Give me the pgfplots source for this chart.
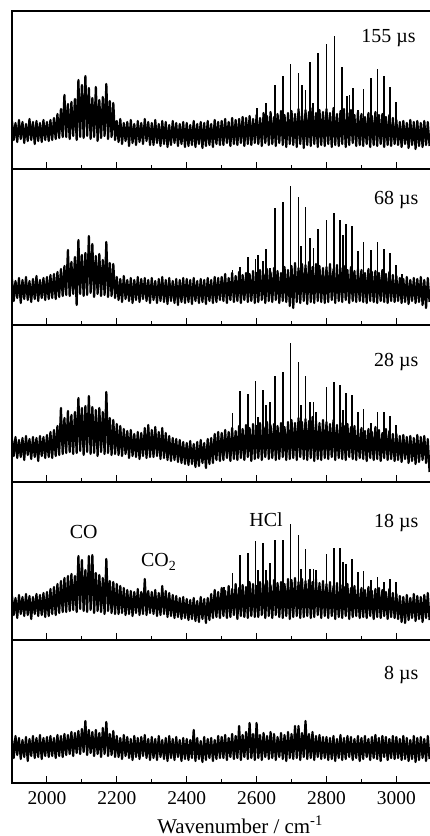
\documentclass[border=0pt]{standalone}
\usepackage{fontspec}
\setmainfont{Liberation Serif}
\usepackage{pgfplots}
\usepackage{pgfplotstable}
\pgfplotsset{compat=1.18}

% noise band of each trace, px above/below its own baseline
% columns: a=155us b=68us c=28us d=18us e=8us
\pgfplotstableread{
w a b c d e
1900 12 11 9 10 9
1905 -7 -11 -8 -9 -10
1910 10 9 11 8 12
1915 -9 -8 -10 -12 -7
1920 13 12 8 11 10
1925 -6 -13 -9 -8 -11
1930 11 10 10 9 8
1935 -10 -9 -12 -10 -9
1940 9 13 12 12 11
1945 -8 -10 -7 -9 -13
1950 14 9 9 10 9
1955 -7 -12 -11 -13 -8
1960 11 11 11 9 12
1965 -11 -9 -9 -8 -10
1970 12 14 10 12 10
1975 -8 -11 -13 -10 -9
1980 10 10 12 11 13
1985 -9 -8 -8 -9 -11
1990 13 12 11 13 10
1995 -7 -10 -10 -11 -8
2000 11 13 13 14 11
2005 -8 -9 -9 -10 -9
2010 13 15 16 17 12
2015 -7 -8 -10 -8 -8
2020 15 16 18 19 10
2025 -6 -9 -8 -9 -10
2030 19 18 22 22 13
2035 -5 -7 -7 -7 -8
2040 24 21 40 25 12
2045 -4 -6 -6 -6 -9
2050 38 24 30 28 14
2055 -4 -5 -5 -6 -7
2060 29 40 37 30 13
2065 -6 -6 -4 -5 -6
2070 31 28 33 32 16
2075 -3 -4 -6 -4 -8
2080 34 33 36 30 15
2085 -7 -15 -5 -6 -5
2090 53 50 50 50 17
2095 -4 -4 -3 -3 -6
2100 48 35 40 46 19
2105 -5 -6 -7 -5 -4
2110 57 37 42 36 27
2115 -3 -5 -4 -6 -7
2120 45 54 52 50 18
2125 -6 -3 -6 -4 -5
2130 35 46 41 51 16
2135 -4 -7 -5 -7 -8
2140 46 34 38 33 18
2145 -8 -4 -8 -5 -6
2150 33 36 40 31 15
2155 -5 -6 -4 -6 -9
2160 36 30 36 28 20
2165 -3 -5 -6 -8 -6
2170 49 48 56 47 26
2175 -6 -7 -5 -5 -8
2180 32 27 30 25 14
2185 -4 -6 -7 -7 -7
2190 30 26 28 24 17
2195 -7 -8 -6 -8 -9
2200 12 13 24 22 12
2205 -9 -10 -7 -8 -9
2210 14 11 22 20 10
2215 -11 -12 -8 -7 -11
2220 10 14 19 18 13
2225 -8 -9 -6 -9 -8
2230 11 10 17 16 11
2235 -13 -11 -10 -8 -10
2240 13 12 18 15 9
2245 -10 -13 -8 -10 -12
2250 9 10 14 14 12
2255 -12 -10 -9 -7 -9
2260 12 13 16 17 10
2265 -9 -12 -11 -9 -11
2270 10 11 15 14 11
2275 -11 -9 -8 -8 -8
2280 14 12 20 27 13
2285 -8 -11 -10 -9 -10
2290 11 10 23 15 9
2295 -12 -13 -9 -7 -12
2300 10 12 18 14 11
2305 -12 -10 -9 -8 -10
2310 13 9 21 16 9
2315 -10 -13 -8 -10 -12
2320 9 11 16 13 12
2325 -13 -11 -11 -9 -9
2330 12 13 20 20 8
2335 -11 -12 -10 -8 -11
2340 11 10 15 15 10
2345 -14 -14 -12 -11 -13
2350 8 12 12 13 12
2355 -12 -11 -13 -10 -10
2360 12 9 10 11 9
2365 -10 -13 -12 -12 -12
2370 10 11 9 10 11
2375 -13 -15 -14 -11 -9
2380 9 10 8 8 8
2385 -11 -12 -15 -13 -13
2390 11 12 6 9 10
2395 -14 -13 -16 -12 -11
2400 10 11 5 7 9
2405 -13 -12 -17 -14 -12
2410 8 10 7 6 8
2415 -12 -14 -16 -13 -10
2420 12 12 4 8 18
2425 -14 -11 -19 -15 -13
2430 9 9 6 5 10
2435 -11 -13 -18 -16 -11
2440 11 11 8 9 7
2445 -15 -12 -15 -13 -14
2450 10 10 5 7 11
2455 -13 -14 -20 -17 -12
2460 12 12 9 8 9
2465 -12 -11 -16 -14 -10
2470 9 10 10 12 10
2475 -14 -13 -15 -12 -13
2480 13 13 14 16 8
2485 -11 -12 -12 -11 -11
2490 11 12 16 14 12
2495 -12 -10 -13 -12 -10
2500 12 13 15 18 11
2505 -12 -11 -12 -10 -10
2510 14 16 18 15 13
2515 -10 -13 -10 -12 -12
2520 11 12 16 20 10
2525 -13 -10 -13 -11 -9
2530 15 17 20 17 14
2535 -11 -12 -11 -9 -11
2540 13 14 17 22 12
2545 -12 -11 -12 -13 -10
2550 14 18 22 18 22
2555 -10 -13 -10 -10 -12
2560 16 15 19 21 13
2565 -13 -10 -12 -11 -9
2570 15 17 23 19 16
2575 -11 -12 -9 -12 -11
2580 17 16 20 24 25
2585 -12 -11 -13 -10 -10
2590 14 19 24 22 14
2595 -10 -13 -11 -11 -12
2600 18 17 22 20 25
2605 -11 -12 -10 -11 -10
2610 15 20 25 24 13
2615 -13 -10 -12 -9 -12
2620 20 16 21 22 15
2625 -10 -13 -9 -12 -9
2630 17 21 26 25 12
2635 -12 -11 -11 -10 -11
2640 21 18 23 21 16
2645 -11 -12 -10 -12 -10
2650 16 22 24 26 14
2655 -13 -10 -12 -9 -12
2660 19 19 22 23 11
2665 -10 -13 -11 -11 -9
2670 22 17 25 24 15
2675 -12 -11 -9 -12 -11
2680 18 23 21 22 13
2685 -14 -12 -12 -10 -13
2690 20 20 26 27 16
2695 -11 -16 -11 -13 -10
2700 22 24 28 26 14
2705 -12 -18 -10 -11 -11
2710 19 27 25 28 22
2715 -14 -12 -12 -10 -10
2720 24 22 30 24 22
2725 -11 -13 -9 -12 -12
2730 20 26 26 27 15
2735 -15 -11 -11 -11 -9
2740 23 25 29 25 27
2745 -12 -14 -12 -10 -11
2750 21 28 27 26 14
2755 -13 -12 -10 -12 -10
2760 25 23 31 24 16
2765 -11 -13 -13 -11 -12
2770 20 26 27 27 12
2775 -14 -11 -11 -9 -9
2780 23 24 25 23 13
2785 -12 -12 -12 -12 -11
2790 21 22 28 25 11
2795 -13 -13 -10 -10 -10
2800 24 23 26 22 11
2805 -11 -12 -11 -12 -12
2810 20 26 24 24 10
2815 -14 -10 -9 -10 -11
2820 25 21 28 20 12
2825 -12 -13 -12 -13 -13
2830 19 25 23 23 9
2835 -13 -11 -10 -11 -10
2840 22 22 25 21 13
2845 -11 -12 -11 -12 -12
2850 24 24 22 19 10
2855 -14 -10 -12 -10 -11
2860 20 20 24 22 12
2865 -12 -13 -9 -13 -9
2870 23 23 21 18 11
2875 -10 -11 -11 -11 -12
2880 18 19 22 20 9
2885 -13 -12 -12 -10 -10
2890 21 21 19 17 12
2895 -12 -11 -10 -12 -13
2900 19 20 20 18 10
2905 -13 -12 -11 -11 -11
2910 16 17 17 16 12
2915 -11 -13 -13 -12 -9
2920 20 21 19 19 9
2925 -14 -11 -10 -10 -12
2930 17 18 16 15 11
2935 -12 -12 -12 -13 -10
2940 21 19 21 17 13
2945 -13 -13 -11 -11 -11
2950 18 17 18 18 10
2955 -11 -11 -13 -12 -13
2960 19 20 15 16 12
2965 -14 -12 -10 -10 -9
2970 16 16 19 14 11
2975 -12 -13 -12 -13 -12
2980 18 18 17 17 9
2985 -13 -11 -11 -11 -10
2990 15 15 14 13 12
2995 -11 -12 -13 -12 -11
3000 13 14 14 12 11
3005 -12 -11 -12 -13 -10
3010 11 12 12 10 9
3015 -14 -13 -14 -16 -12
3020 12 11 13 9 12
3025 -11 -12 -11 -17 -11
3030 10 13 11 11 10
3035 -15 -14 -15 -14 -13
3040 13 10 12 8 8
3045 -12 -11 -13 -12 -11
3050 11 12 10 12 12
3055 -16 -13 -16 -15 -14
3060 12 11 13 10 10
3065 -13 -12 -14 -13 -12
3070 10 13 11 9 11
3075 -14 -15 -12 -16 -10
3080 12 10 12 11 9
3085 -12 -18 -15 -12 -13
3090 11 12 9 13 12
3095 -13 -12 -24 -14 -11
}\noise

% HCl lines: position, peak height above baseline
\pgfplotstableread{
w h
2602 25
2628 30
2652 48
2675 57
2697 69
2720 60
2730 48
2740 43
2754 71
2761 30
2776 80
2800 89
2823 97
2844 66
2859 37
2866 38
2876 45
2890 23
2906 44
2928 55
2946 64
2964 57
2983 46
3000 31
}\hclA

\pgfplotstableread{
w h
2531 20
2553 23
2575 33
2597 31
2604 35
2618 29
2628 41
2639 22
2652 82
2675 88
2697 104
2720 93
2728 44
2740 83
2754 52
2763 42
2776 61
2800 70
2821 77
2838 70
2847 55
2857 66
2874 64
2890 39
2906 48
2928 40
2946 48
2964 41
2983 37
3000 25
3017 16
}\hclB

\pgfplotstableread{
w h
2531 35
2553 57
2575 54
2597 67
2604 31
2618 58
2628 43
2639 46
2652 72
2675 76
2697 105
2720 86
2728 43
2740 72
2754 46
2763 46
2771 36
2800 61
2821 66
2838 63
2847 38
2857 55
2874 53
2890 36
2906 39
2928 25
2946 36
2964 36
2983 32
3000 23
}\hclC

\pgfplotstableread{
w h
2506 19
2531 33
2553 51
2575 53
2597 65
2604 36
2618 63
2628 36
2639 43
2652 66
2675 66
2697 82
2720 71
2728 37
2740 57
2754 37
2763 37
2771 36
2800 52
2821 58
2838 58
2847 44
2857 42
2874 47
2890 34
2906 35
2928 26
2946 29
2964 24
2983 27
3000 24
}\hclD

\pgfplotsset{
  panel/.style={
    scale only axis,
    width=419.3bp,
    xmin=1900, xmax=3100,
    ytick=\empty,
    xtick={2000,2200,2400,2600,2800,3000},
    minor xtick={2100,2300,2500,2700,2900},
    xtick pos=left,
    tick align=inside,
    major tick length=7bp,
    minor tick length=4bp,
    every tick/.style={black, line width=1bp},
    axis line style={line width=1.1bp},
    xticklabels={},
    anchor=south west,
  },
  trace/.style={black, line width=2.2bp, line join=round, no marks},
  hcl/.style={ycomb, black, line width=1.9bp, no marks},
}
\tikzset{
  tlabel/.style={anchor=base east, font=\fontsize{20}{24}\selectfont},
  species/.style={anchor=base, font=\fontsize{20}{24}\selectfont},
}

\begin{document}
\begin{tikzpicture}
\useasboundingbox (0,0) rectangle (430bp,836bp);

% 155 us
\begin{axis}[panel, at={(12bp,667bp)}, height=158bp, ymin=-36, ymax=122]
\addplot[trace] table[x=w, y=a] {\noise};
\addplot[hcl] table[x=w, y=h] {\hclA};
\node[tlabel] at (axis cs:3065,90) {155 µs};
\end{axis}

% 68 us
\begin{axis}[panel, at={(12bp,511bp)}, height=156bp, ymin=-35, ymax=121]
\addplot[trace] table[x=w, y=b] {\noise};
\addplot[hcl] table[x=w, y=h] {\hclB};
\node[tlabel] at (axis cs:3073,85) {68 µs};
\end{axis}

% 28 us
\begin{axis}[panel, at={(12bp,354bp)}, height=157bp, ymin=-34, ymax=123]
\addplot[trace] table[x=w, y=c] {\noise};
\addplot[hcl] table[x=w, y=h] {\hclC};
\node[tlabel] at (axis cs:3073,81) {28 µs};
\end{axis}

% 18 us
\begin{axis}[panel, at={(12bp,196bp)}, height=158bp, ymin=-34, ymax=124]
\addplot[trace] table[x=w, y=d] {\noise};
\addplot[hcl] table[x=w, y=h] {\hclD};
\node[tlabel] at (axis cs:3073,78) {18 µs};
\node[species] at (axis cs:2105,67) {CO};
\node[species] at (axis cs:2320,39) {CO\textsubscript{2}};
\node[species] at (axis cs:2627,79) {HCl};
\end{axis}

% 8 us
\begin{axis}[panel, at={(12bp,53bp)}, height=143bp, ymin=-35, ymax=108,
  xticklabels={2000,2200,2400,2600,2800,3000},
  xticklabel style={font=\fontsize{19.5}{22}\selectfont, yshift=-5bp},
  xlabel={Wavenumber / cm\textsuperscript{-1}},
  xlabel style={font=\fontsize{21}{24}\selectfont, at={(axis description cs:0.544,0)}, anchor=base, yshift=-50bp},
]
\addplot[trace] table[x=w, y=e] {\noise};
\node[tlabel] at (axis cs:3073,68) {8 µs};
\end{axis}
\end{tikzpicture}
\end{document}
